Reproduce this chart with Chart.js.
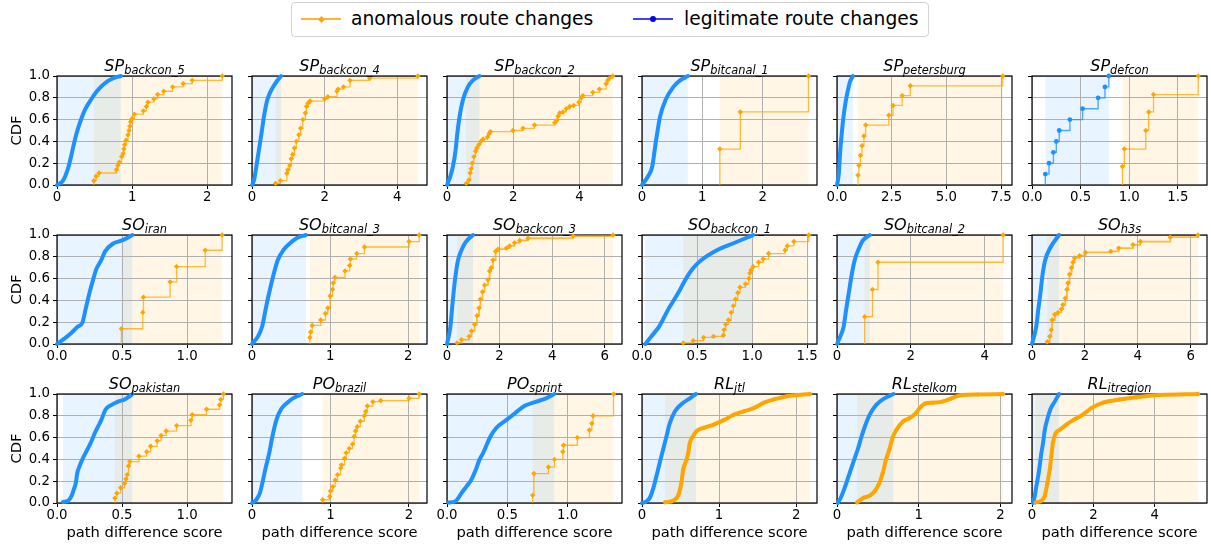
<!DOCTYPE html>
<html><head><meta charset="utf-8">
<script src="https://cdn.jsdelivr.net/npm/chart.js@4/dist/chart.umd.min.js"></script>
<style>
body{margin:0;background:#fff;width:1211px;height:544px;overflow:hidden;font-family:"DejaVu Sans",sans-serif;position:relative}
canvas{position:absolute}
.ttl{position:absolute;width:175px;text-align:center;font-size:16px;line-height:16px;font-style:italic;white-space:nowrap;color:#000;z-index:5}
.ttl sub{font-size:11.4px;vertical-align:-3px;line-height:0}
#legend{position:absolute;left:291px;top:2px;width:638px;height:35px;border:1px solid #d3d3d3;border-radius:4px;box-sizing:border-box;z-index:5}
.lg-line{position:absolute;top:15px;width:40px;height:2px}
.lg-dia{position:absolute;top:13.5px;width:5px;height:5px;background:#ffa500;transform:rotate(45deg)}
.lg-dot{position:absolute;top:13px;width:6px;height:6px;border-radius:50%;background:#0000ff}
.lg-text{position:absolute;top:4.5px;font-size:18.7px;line-height:22px;white-space:nowrap;color:#000}
</style></head><body>
<div id="legend">
  <div class="lg-line" style="left:9px;background:rgba(255,165,0,0.8)"></div>
  <div class="lg-dia" style="left:26.5px"></div>
  <div class="lg-text" style="left:59px">anomalous route changes</div>
  <div class="lg-line" style="left:341px;background:rgba(0,0,255,0.75)"></div>
  <div class="lg-dot" style="left:358px"></div>
  <div class="lg-text" style="left:392px">legitimate route changes</div>
</div>
<script>
// ---------- DATA ----------
const titlePrefix = ['SP','SP','SP','SP','SP','SP','SO','SO','SO','SO','SO','SO','SO','PO','PO','RL','RL','RL'];
const titleSub = ['backcon_5','backcon_4','backcon_2','bitcanal_1','petersburg','defcon',
  'iran','bitcanal_3','backcon_3','backcon_1','bitcanal_2','h3s',
  'pakistan','brazil','sprint','jtl','stelkom','itregion'];
const xTickLabels = [
  ['0','1','2'],['0','2','4'],['0','2','4'],['0','1','2'],['0.0','2.5','5.0','7.5'],['0.0','0.5','1.0','1.5'],
  ['0.0','0.5','1.0'],['0','1','2'],['0','2','4','6'],['0.0','0.5','1.0','1.5'],['0','2','4'],['0','2','4','6'],
  ['0.0','0.5','1.0'],['0','1','2'],['0.0','0.5','1.0'],['0','1','2'],['0','1','2'],['0','2','4']];
const xMax = [2.33,4.82,5.28,2.9,8.0,1.8, 1.346,2.24,6.66,1.59,4.74,6.62, 1.346,2.23,1.45,2.27,2.14,5.7];
const yTickLabels = ['0.0','0.2','0.4','0.6','0.8','1.0'];
const xAxisTitle = 'path difference score';
const yAxisTitle = 'CDF';
const seriesNames = ['anomalous route changes','legitimate route changes'];

// [score, CDF] pairs
const legit_SP_backcon_5 = [[0,0],[0.08,0.04],[0.15,0.16],[0.2,0.3],[0.24,0.42],[0.28,0.52],[0.33,0.62],[0.38,0.7],[0.45,0.78],[0.52,0.85],[0.6,0.91],[0.68,0.955],[0.77,0.985],[0.85,1.0]];
const anom_SP_backcon_5 = [[0.49,0.04],[0.52,0.08],[0.56,0.11],[0.79,0.14],[0.81,0.18],[0.83,0.21],[0.86,0.26],[0.88,0.29],[0.89,0.33],[0.9,0.37],[0.92,0.41],[0.945,0.46],[0.96,0.5],[0.97,0.54],[0.98,0.58],[1.0,0.61],[1.03,0.65],[1.15,0.68],[1.19,0.72],[1.21,0.76],[1.29,0.79],[1.34,0.83],[1.42,0.86],[1.54,0.9],[1.68,0.93],[1.8,0.96],[2.2,1.0]];
const legit_SP_backcon_4 = [[0,0],[0.06,0.05],[0.12,0.17],[0.19,0.32],[0.26,0.47],[0.33,0.63],[0.42,0.78],[0.5,0.85],[0.58,0.9],[0.68,0.95],[0.8,1.0]];
const anom_SP_backcon_4 = [[0.65,0.015],[0.78,0.04],[0.96,0.107],[0.99,0.14],[1.04,0.18],[1.08,0.24],[1.12,0.28],[1.17,0.34],[1.22,0.4],[1.29,0.46],[1.34,0.52],[1.4,0.6],[1.47,0.66],[1.5,0.72],[1.54,0.75],[1.6,0.77],[2.0,0.79],[2.09,0.81],[2.34,0.86],[2.37,0.88],[2.52,0.9],[2.7,0.96],[3.24,0.98],[4.57,1.0]];
const legit_SP_backcon_2 = [[0,0],[0.1,0.08],[0.18,0.17],[0.26,0.32],[0.31,0.47],[0.38,0.63],[0.48,0.78],[0.63,0.9],[0.78,0.96],[0.98,1.0]];
const anom_SP_backcon_2 = [[0.58,0.015],[0.66,0.046],[0.7,0.11],[0.73,0.15],[0.76,0.2],[0.81,0.26],[0.86,0.31],[0.9,0.34],[0.96,0.37],[1.02,0.4],[1.09,0.42],[1.22,0.44],[1.27,0.47],[1.31,0.49],[1.99,0.5],[2.29,0.52],[2.64,0.55],[3.25,0.57],[3.3,0.59],[3.35,0.63],[3.4,0.66],[3.5,0.67],[3.6,0.7],[3.7,0.72],[3.82,0.73],[3.98,0.76],[4.05,0.8],[4.1,0.82],[4.4,0.85],[4.6,0.88],[4.8,0.93],[4.85,0.96],[4.9,0.98],[5.0,1.0]];
const legit_SP_bitcanal_1 = [[0,0],[0.1,0.08],[0.17,0.17],[0.21,0.32],[0.25,0.47],[0.3,0.63],[0.39,0.78],[0.52,0.9],[0.63,0.96],[0.76,1.0]];
const anom_SP_bitcanal_1 = [[1.29,0.33],[1.63,0.67],[2.76,1.0]];
const legit_SP_petersburg = [[0,0],[0.08,0.1],[0.15,0.32],[0.22,0.48],[0.3,0.63],[0.4,0.77],[0.5,0.87],[0.6,0.95],[0.73,1.0]];
const anom_SP_petersburg = [[0.96,0.09],[1.0,0.18],[1.07,0.27],[1.14,0.36],[1.23,0.45],[1.31,0.55],[2.37,0.64],[2.56,0.73],[2.98,0.82],[3.35,0.91],[7.58,1.0]];
const legit_SP_defcon = [[0.137,0.1],[0.175,0.2],[0.22,0.3],[0.25,0.4],[0.28,0.5],[0.39,0.6],[0.52,0.7],[0.68,0.8],[0.75,0.9],[0.79,1.0]];
const anom_SP_defcon = [[0.93,0.17],[0.95,0.33],[1.17,0.5],[1.2,0.67],[1.25,0.83],[1.71,1.0]];
const legit_SO_iran = [[0,0],[0.046,0.04],[0.11,0.1],[0.16,0.16],[0.195,0.195],[0.22,0.32],[0.25,0.47],[0.285,0.62],[0.3,0.68],[0.34,0.77],[0.37,0.85],[0.43,0.92],[0.5,0.95],[0.58,1.0]];
const anom_SO_iran = [[0.495,0.14],[0.66,0.29],[0.665,0.43],[0.87,0.57],[0.92,0.71],[1.14,0.86],[1.27,1.0]];
const legit_SO_bitcanal_3 = [[0,0],[0.077,0.07],[0.13,0.16],[0.175,0.32],[0.22,0.47],[0.27,0.62],[0.33,0.77],[0.4,0.86],[0.48,0.92],[0.57,0.97],[0.69,1.0]];
const anom_SO_bitcanal_3 = [[0.74,0.06],[0.75,0.11],[0.77,0.17],[0.88,0.22],[0.94,0.28],[0.97,0.33],[1.0,0.44],[1.03,0.5],[1.04,0.56],[1.06,0.61],[1.19,0.67],[1.25,0.72],[1.26,0.78],[1.34,0.83],[1.44,0.89],[2.01,0.94],[2.14,1.0]];
const legit_SO_backcon_3 = [[0,0],[0.13,0.16],[0.19,0.32],[0.25,0.47],[0.32,0.62],[0.42,0.77],[0.55,0.86],[0.67,0.92],[0.8,0.96],[0.99,1.0]];
const anom_SO_backcon_3 = [[0.38,0.01],[0.55,0.04],[0.84,0.07],[0.93,0.12],[1.05,0.18],[1.14,0.26],[1.22,0.33],[1.27,0.41],[1.35,0.48],[1.43,0.54],[1.56,0.59],[1.62,0.67],[1.68,0.7],[1.75,0.77],[1.85,0.85],[1.94,0.87],[2.26,0.88],[2.38,0.9],[2.57,0.93],[2.77,0.95],[3.08,0.97],[4.8,0.99],[6.32,1.0]];
const legit_SO_backcon_1 = [[0.03,0],[0.085,0.07],[0.155,0.16],[0.24,0.32],[0.33,0.47],[0.4,0.6],[0.46,0.69],[0.54,0.77],[0.68,0.86],[0.82,0.92],[0.94,0.97],[1.01,1.0]];
const anom_SO_backcon_1 = [[0.375,0.01],[0.465,0.03],[0.56,0.06],[0.65,0.07],[0.74,0.08],[0.745,0.13],[0.76,0.18],[0.785,0.22],[0.81,0.29],[0.83,0.35],[0.85,0.41],[0.87,0.47],[0.89,0.52],[0.94,0.55],[0.97,0.6],[0.98,0.65],[0.99,0.68],[1.01,0.71],[1.06,0.75],[1.1,0.78],[1.15,0.83],[1.3,0.86],[1.32,0.9],[1.38,0.94],[1.515,1.0]];
const legit_SO_bitcanal_2 = [[0,0],[0.09,0.07],[0.18,0.16],[0.25,0.32],[0.32,0.47],[0.39,0.62],[0.48,0.77],[0.61,0.89],[0.7,0.95],[0.89,1.0]];
const anom_SO_bitcanal_2 = [[0.75,0.25],[0.96,0.5],[1.11,0.75],[4.5,1.0]];
const legit_SO_h3s = [[0,0],[0.16,0.16],[0.24,0.32],[0.32,0.47],[0.39,0.62],[0.5,0.77],[0.71,0.89],[1.02,1.0]];
const anom_SO_h3s = [[0.58,0.02],[0.67,0.07],[0.73,0.13],[0.76,0.22],[0.86,0.27],[0.98,0.29],[1.11,0.32],[1.17,0.36],[1.26,0.42],[1.32,0.5],[1.36,0.56],[1.42,0.64],[1.49,0.7],[1.55,0.75],[1.61,0.79],[1.8,0.81],[2.02,0.84],[2.98,0.85],[3.28,0.88],[3.82,0.91],[4.1,0.94],[5.23,0.98],[6.28,1.0]];
const legit_SO_pakistan = [[0.046,0.01],[0.085,0.02],[0.11,0.06],[0.128,0.12],[0.144,0.18],[0.156,0.275],[0.174,0.34],[0.195,0.4],[0.22,0.46],[0.246,0.52],[0.27,0.58],[0.29,0.64],[0.315,0.7],[0.34,0.76],[0.375,0.86],[0.42,0.9],[0.47,0.93],[0.52,0.95],[0.56,0.98],[0.58,1.0]];
const anom_SO_pakistan = [[0.445,0.045],[0.46,0.09],[0.49,0.14],[0.52,0.18],[0.53,0.22],[0.54,0.26],[0.55,0.34],[0.56,0.38],[0.63,0.43],[0.69,0.47],[0.72,0.52],[0.77,0.57],[0.8,0.62],[0.84,0.66],[0.92,0.71],[1.03,0.76],[1.04,0.81],[1.15,0.86],[1.25,0.9],[1.26,0.95],[1.28,1.0]];
const legit_PO_brazil = [[0,0],[0.055,0.03],[0.1,0.09],[0.14,0.21],[0.17,0.31],[0.22,0.46],[0.26,0.61],[0.31,0.76],[0.37,0.86],[0.45,0.92],[0.52,0.96],[0.64,1.0]];
const anom_PO_brazil = [[0.9,0.03],[0.99,0.06],[1.0,0.11],[1.03,0.15],[1.06,0.21],[1.09,0.26],[1.13,0.32],[1.14,0.35],[1.18,0.41],[1.2,0.46],[1.24,0.5],[1.28,0.54],[1.3,0.61],[1.32,0.66],[1.34,0.7],[1.38,0.75],[1.43,0.8],[1.45,0.84],[1.47,0.89],[1.54,0.93],[1.64,0.94],[2.0,0.96],[2.13,1.0]];
const legit_PO_sprint = [[0.01,0.005],[0.06,0.01],[0.083,0.03],[0.12,0.09],[0.16,0.15],[0.2,0.21],[0.24,0.31],[0.27,0.4],[0.3,0.46],[0.36,0.61],[0.41,0.69],[0.49,0.76],[0.56,0.82],[0.64,0.89],[0.74,0.93],[0.82,0.96],[0.89,1.0]];
const anom_PO_sprint = [[0.71,0.07],[0.72,0.27],[0.84,0.33],[0.89,0.4],[0.96,0.47],[0.965,0.53],[1.08,0.6],[1.18,0.67],[1.2,0.73],[1.21,0.8],[1.38,1.0]];
const legit_RL_jtl = [[0,0],[0.057,0.015],[0.1,0.046],[0.14,0.12],[0.187,0.245],[0.23,0.37],[0.274,0.49],[0.317,0.61],[0.36,0.73],[0.426,0.84],[0.535,0.92],[0.62,0.96],[0.7,1.0]];
const anom_RL_jtl = [[0.3,0.006],[0.38,0.015],[0.45,0.046],[0.48,0.09],[0.51,0.18],[0.535,0.31],[0.58,0.4],[0.6,0.46],[0.62,0.55],[0.66,0.61],[0.71,0.66],[0.8,0.69],[0.93,0.72],[1.06,0.76],[1.19,0.81],[1.32,0.84],[1.45,0.87],[1.58,0.92],[1.71,0.95],[1.88,0.98],[2.01,0.99],[2.18,1.0]];
const legit_RL_stelkom = [[0.01,0],[0.053,0.06],[0.094,0.14],[0.135,0.23],[0.175,0.32],[0.216,0.41],[0.257,0.5],[0.3,0.61],[0.34,0.7],[0.4,0.81],[0.48,0.9],[0.58,0.96],[0.69,1.0]];
const anom_RL_stelkom = [[0.245,0.006],[0.32,0.046],[0.4,0.067],[0.46,0.107],[0.51,0.17],[0.56,0.275],[0.6,0.4],[0.64,0.49],[0.68,0.6],[0.725,0.67],[0.81,0.75],[0.89,0.78],[0.97,0.83],[1.01,0.87],[1.07,0.91],[1.17,0.92],[1.29,0.93],[1.4,0.96],[1.52,0.99],[1.72,0.995],[2.03,1.0]];
const legit_RL_itregion = [[0.03,0],[0.087,0.06],[0.14,0.15],[0.2,0.245],[0.25,0.34],[0.3,0.45],[0.36,0.55],[0.41,0.66],[0.49,0.76],[0.6,0.86],[0.74,0.93],[0.88,1.0]];
const anom_RL_itregion = [[0.12,0.006],[0.3,0.02],[0.41,0.06],[0.5,0.18],[0.58,0.31],[0.63,0.43],[0.68,0.55],[0.77,0.64],[0.9,0.67],[1.12,0.72],[1.34,0.76],[1.66,0.81],[1.93,0.87],[2.32,0.92],[2.86,0.95],[3.4,0.97],[4.16,0.99],[5.41,1.0]];

const legitSeries = [legit_SP_backcon_5,legit_SP_backcon_4,legit_SP_backcon_2,legit_SP_bitcanal_1,legit_SP_petersburg,legit_SP_defcon,
  legit_SO_iran,legit_SO_bitcanal_3,legit_SO_backcon_3,legit_SO_backcon_1,legit_SO_bitcanal_2,legit_SO_h3s,
  legit_SO_pakistan,legit_PO_brazil,legit_PO_sprint,legit_RL_jtl,legit_RL_stelkom,legit_RL_itregion];
const anomSeries = [anom_SP_backcon_5,anom_SP_backcon_4,anom_SP_backcon_2,anom_SP_bitcanal_1,anom_SP_petersburg,anom_SP_defcon,
  anom_SO_iran,anom_SO_bitcanal_3,anom_SO_backcon_3,anom_SO_backcon_1,anom_SO_bitcanal_2,anom_SO_h3s,
  anom_SO_pakistan,anom_PO_brazil,anom_PO_sprint,anom_RL_jtl,anom_RL_stelkom,anom_RL_itregion];

// ---------- STYLE ----------
const sparseLegit = [5];          // panels whose legit curve has few samples (drawn as steps)
const denseAnom = [15,16,17];     // panels whose anomalous curve is densely sampled
const semiDenseAnom = [8,11];
const colLeft = [57,252,447,642,837,1032], rowTop = [76,235,394], PW = 175, PH = 109;
const BLUE = '#1e90ff', ORANGE = '#ffa500';
Chart.defaults.font.family = "'DejaVu Sans', sans-serif";
Chart.defaults.color = '#000';

const panelPlugin = {
  id: 'panelDeco',
  beforeDraw(chart) {
    const {ctx, chartArea: a, scales: {x}} = chart;
    ctx.save();
    chart.data.datasets.forEach(ds => {
      const xs = ds.data.map(p => p.x);
      const p0 = x.getPixelForValue(Math.min(...xs)), p1 = x.getPixelForValue(Math.max(...xs));
      ctx.fillStyle = ds.spanColor;
      ctx.fillRect(p0, a.top, p1 - p0, a.bottom - a.top);
    });
    ctx.restore();
  },
  beforeDatasetsDraw(chart) {
    const {ctx, chartArea: a} = chart;
    ctx.save();
    ctx.strokeStyle = '#000'; ctx.lineWidth = 1.2;
    ctx.strokeRect(a.left, a.top, a.right - a.left, a.bottom - a.top);
    ctx.restore();
  }
};

const toPts = arr => arr.map(p => ({x: p[0], y: p[1]}));
const toStepPts = arr => [{x: arr[0][0], y: 0}].concat(toPts(arr));

for (let i = 0; i < 18; i++) {
  const r = Math.floor(i / 6), c = i % 6;
  const padTop = 10, yW = 50, padRight = 14, xH = r === 2 ? 41 : 24;
  const W = yW + PW + padRight, H = padTop + PH + xH;
  const cv = document.createElement('canvas');
  cv.width = W; cv.height = H;
  cv.style.left = (colLeft[c] - yW) + 'px'; cv.style.top = (rowTop[r] - padTop) + 'px';
  cv.style.width = W + 'px'; cv.style.height = H + 'px';
  document.body.appendChild(cv);

  const t = document.createElement('div');
  t.className = 'ttl';
  t.style.left = colLeft[c] + 'px'; t.style.top = (rowTop[r] - 18) + 'px';
  t.innerHTML = titlePrefix[i] + '<sub>' + titleSub[i] + '</sub>';
  document.body.appendChild(t);

  const lSparse = sparseLegit.includes(i), aDense = denseAnom.includes(i), aSemi = semiDenseAnom.includes(i);
  const ticksX = xTickLabels[i];

  const anomDs = aDense ? {
      label: seriesNames[0], data: toPts(anomSeries[i]),
      stepped: false, cubicInterpolationMode: 'monotone',
      borderColor: ORANGE, borderWidth: 4, borderCapStyle: 'round', borderJoinStyle: 'round',
      pointStyle: 'rectRot', pointBackgroundColor: ORANGE, pointBorderWidth: 0, pointRadius: 2.4,
      spanColor: 'rgba(255,165,0,0.1)', clip: false
    } : {
      label: seriesNames[0], data: toStepPts(anomSeries[i]),
      stepped: true,
      borderColor: 'rgba(255,165,0,0.75)', borderWidth: aSemi ? 1.8 : 1.3,
      pointStyle: 'rectRot', pointBackgroundColor: ORANGE, pointBorderColor: ORANGE, pointBorderWidth: 0,
      pointRadius: ctx => ctx.dataIndex === 0 ? 0 : 2.7,
      spanColor: 'rgba(255,165,0,0.1)', clip: false
    };
  const legitDs = lSparse ? {
      label: seriesNames[1], data: toStepPts(legitSeries[i]),
      stepped: true,
      borderColor: 'rgba(30,144,255,0.75)', borderWidth: 1.4,
      pointStyle: 'circle', pointBackgroundColor: BLUE, pointBorderWidth: 0,
      pointRadius: ctx => ctx.dataIndex === 0 ? 0 : 2.4,
      spanColor: 'rgba(30,144,255,0.1)', clip: false
    } : {
      label: seriesNames[1], data: toPts(legitSeries[i]),
      stepped: false, cubicInterpolationMode: 'monotone',
      borderColor: BLUE, borderWidth: 4, borderCapStyle: 'round', borderJoinStyle: 'round',
      pointRadius: 0,
      spanColor: 'rgba(30,144,255,0.1)', clip: false
    };

  new Chart(cv, {
    type: 'line',
    data: {datasets: [anomDs, legitDs]},
    options: {
      responsive: false, animation: false,
      layout: {padding: {top: padTop, right: padRight, left: 0, bottom: 0}},
      plugins: {legend: {display: false}, tooltip: {enabled: false}, title: {display: false}},
      scales: {
        x: {
          type: 'linear', min: 0, max: xMax[i],
          afterBuildTicks: s => { s.ticks = ticksX.map(v => ({value: parseFloat(v)})); },
          afterFit: s => { s.height = xH; s.paddingLeft = 0; s.paddingRight = 0; },
          ticks: {callback: (v, idx) => ticksX[idx], font: {size: 13.3}, color: '#000', padding: 1, maxRotation: 0, autoSkip: false},
          grid: {color: '#b0b0b0', lineWidth: 1, drawTicks: true, tickLength: 4, tickColor: '#000', tickWidth: 1},
          border: {display: false},
          title: {display: r === 2, text: xAxisTitle, font: {size: 14.7}, color: '#000', padding: {top: 0, bottom: 2}}
        },
        y: {
          type: 'linear', min: 0, max: 1,
          afterBuildTicks: s => { s.ticks = yTickLabels.map(v => ({value: parseFloat(v)})); },
          afterFit: s => { s.width = yW; s.paddingTop = 0; s.paddingBottom = 0; },
          ticks: {callback: (v, idx) => c === 0 ? yTickLabels[idx] : '', font: {size: 13.3}, color: '#000', padding: 3},
          grid: {color: '#b0b0b0', lineWidth: 1, drawTicks: true, tickLength: 4, tickColor: '#000', tickWidth: 1},
          border: {display: false},
          title: {display: c === 0, text: yAxisTitle, font: {size: 14.7}, color: '#000', padding: {top: 1, bottom: 0}}
        }
      }
    },
    plugins: [panelPlugin]
  });
}
</script>
</body></html>
